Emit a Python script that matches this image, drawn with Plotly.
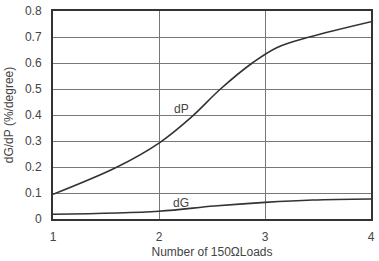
import plotly.graph_objects as go

dp_x = [1.0, 1.605, 2.0, 2.3, 2.58, 2.88, 3.11, 3.42, 4.0]
dp_y = [0.095, 0.2, 0.292, 0.39, 0.5, 0.6, 0.659, 0.7, 0.759]

dg_x = [1.0, 2.0, 2.52, 3.0, 3.45, 4.0]
dg_y = [0.018, 0.030, 0.050, 0.064, 0.073, 0.077]

x_ticks = [1, 2, 3, 4]
y_ticks = [0, 0.1, 0.2, 0.3, 0.4, 0.5, 0.6, 0.7, 0.8]
y_labels = ["0", "0.1", "0.2", "0.3", "0.4", "0.5", "0.6", "0.7", "0.8"]

fig = go.Figure()
fig.add_trace(go.Scatter(x=dp_x, y=dp_y, mode="lines",
                         line=dict(color="#333333", width=1.6, shape="spline", smoothing=1.0),
                         showlegend=False))
fig.add_trace(go.Scatter(x=dg_x, y=dg_y, mode="lines",
                         line=dict(color="#333333", width=1.6, shape="spline", smoothing=1.0),
                         showlegend=False))

font = dict(family="Liberation Sans, Arial, sans-serif", size=12, color="#444444")
fig.add_annotation(x=2.21, y=0.425, text="dP", showarrow=False, font=font)
fig.add_annotation(x=2.21, y=0.061, text="dG", showarrow=False, font=font)

fig.update_layout(
    width=379, height=261,
    margin=dict(l=53, r=4, t=5, b=38),
    paper_bgcolor="white", plot_bgcolor="white",
    font=font,
    xaxis=dict(range=[1, 4], tickvals=x_ticks, ticktext=[str(v) for v in x_ticks],
               showgrid=True, gridcolor="#777777", gridwidth=1,
               showline=True, linecolor="#333333", linewidth=2, mirror=True,
               ticks="", zeroline=False, ticklabelstandoff=6, ticklabeloverflow="allow",
               title=dict(text="Number of 150\u03a9Loads", standoff=4, font=font)),
    yaxis=dict(range=[0, 0.8], tickvals=y_ticks, ticktext=y_labels,
               showgrid=True, gridcolor="#777777", gridwidth=1,
               showline=True, linecolor="#333333", linewidth=2, mirror=True,
               ticks="", zeroline=False, ticklabelstandoff=7, ticklabeloverflow="allow",
               title=dict(text="dG/dP (%/degree)", standoff=9, font=font)),
)

fig.write_html("out.html")
